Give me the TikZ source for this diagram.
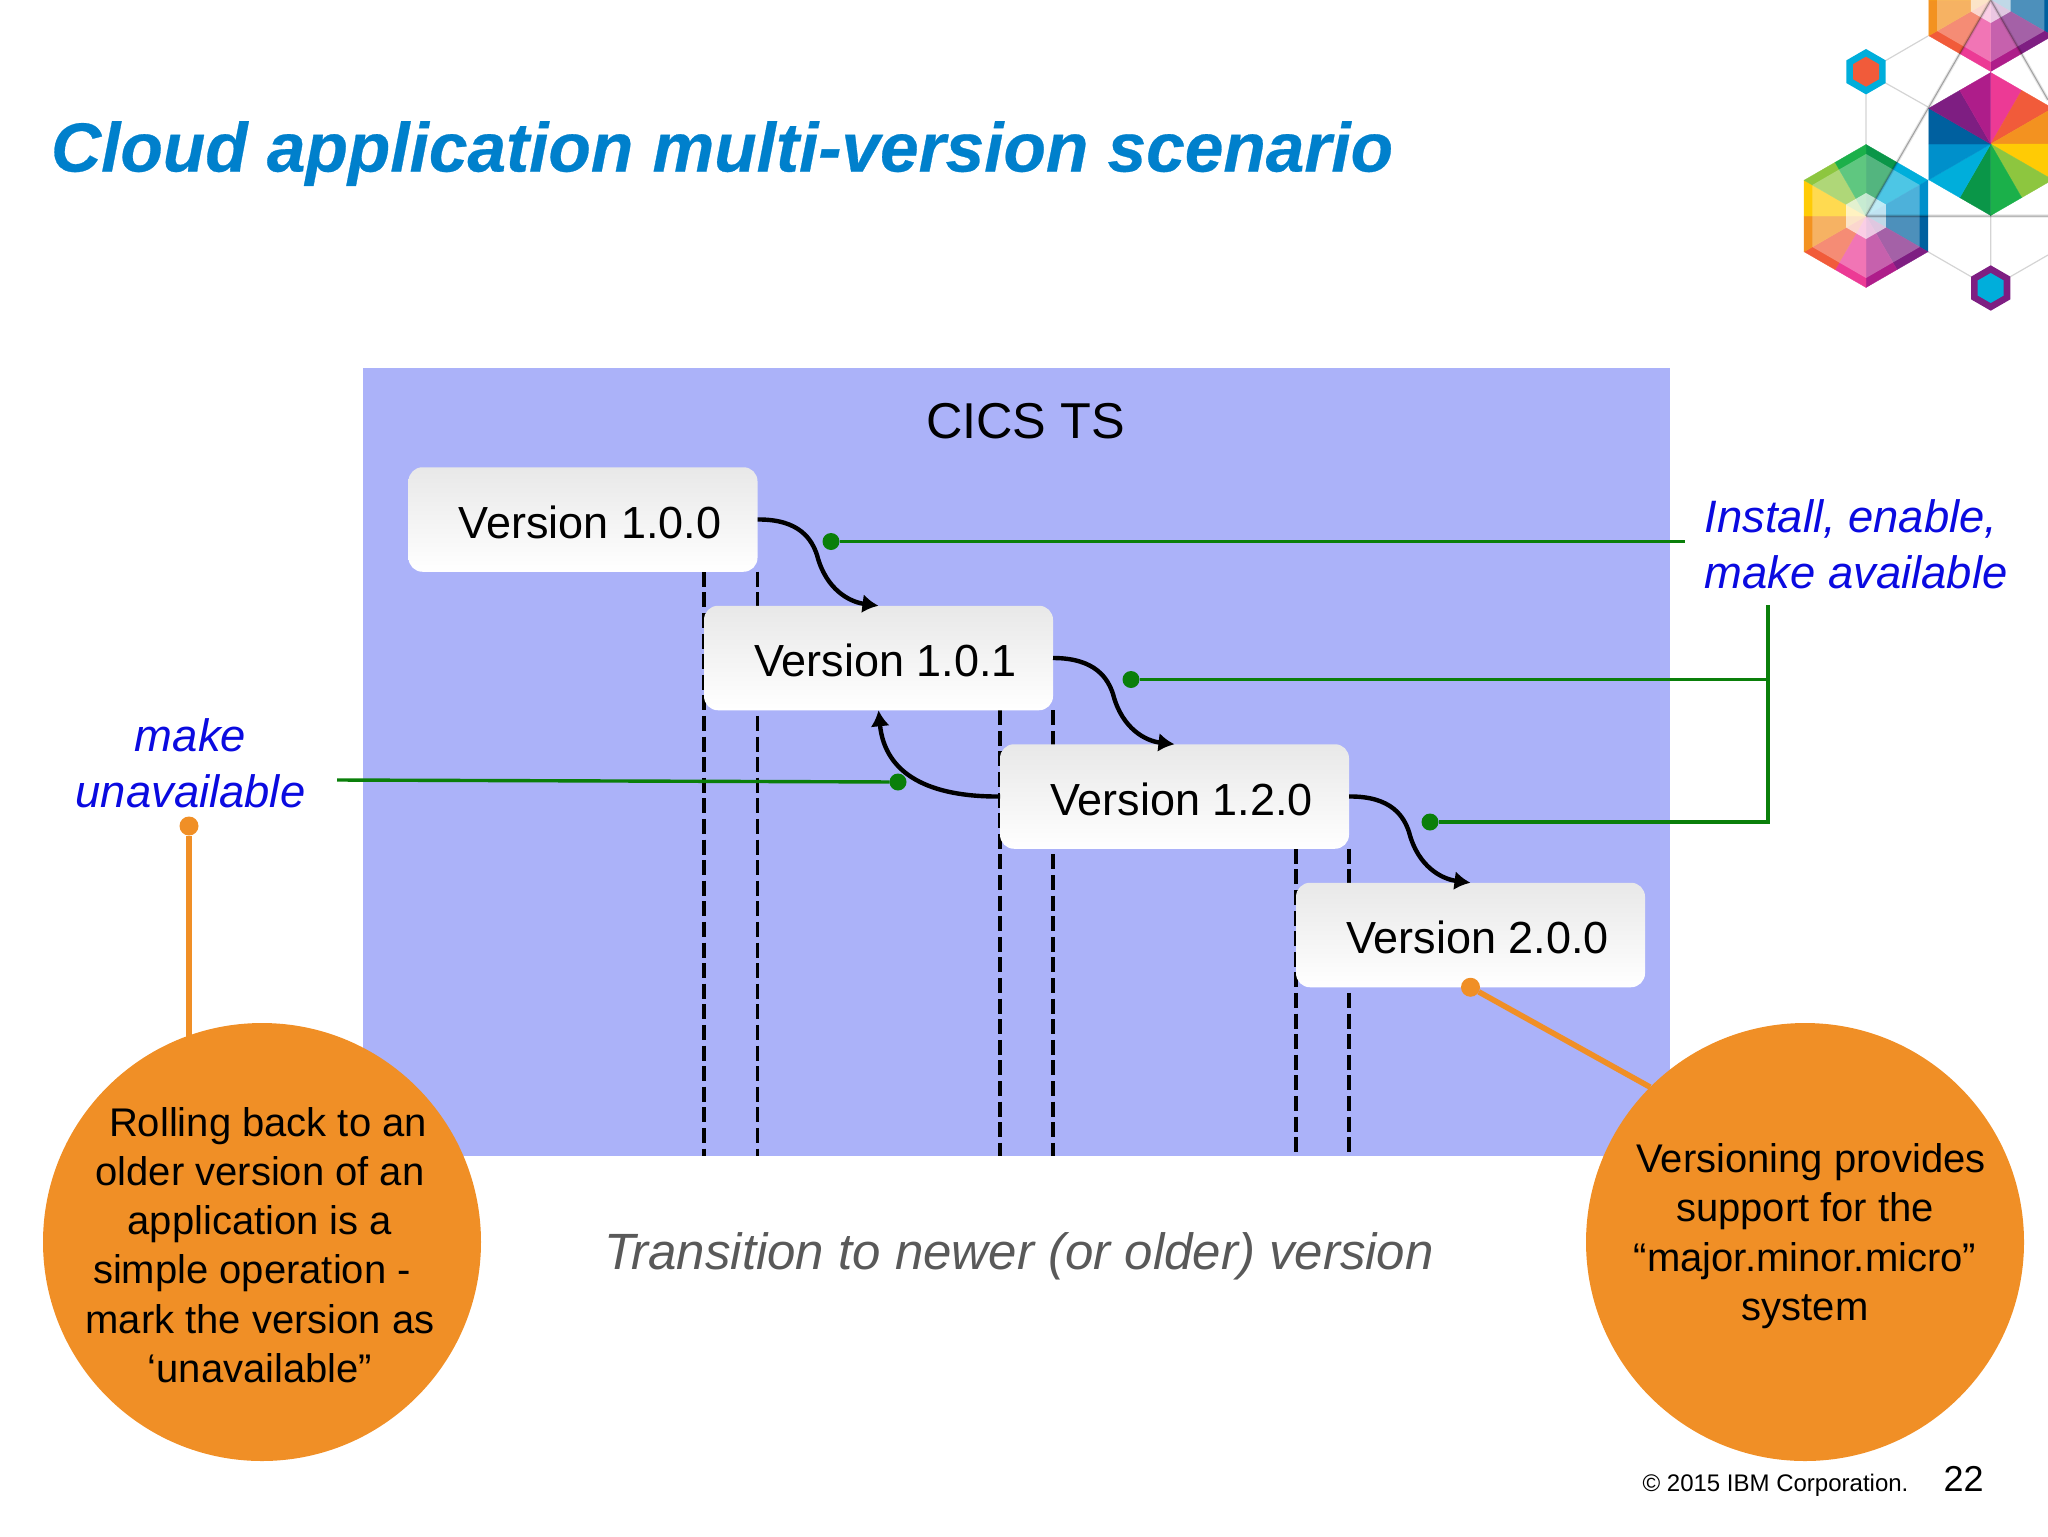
\documentclass[tikz,border=0pt]{standalone}
\usepackage{fontspec}
\setmainfont{Liberation Sans}
\usetikzlibrary{arrows.meta}
\definecolor{panelblue}{HTML}{ABB2F9}
\definecolor{titleblue}{HTML}{0080CC}
\definecolor{labelblue}{HTML}{0A0AE0}
\definecolor{dotgreen}{HTML}{0A7F0A}
\definecolor{bubble}{HTML}{F08F26}
\definecolor{wpink}{HTML}{EC3A95}
\definecolor{wred}{HTML}{F15B3A}
\definecolor{worange}{HTML}{F39220}
\definecolor{wyellow}{HTML}{FFCB05}
\definecolor{wlgreen}{HTML}{8DC63F}
\definecolor{wgreen}{HTML}{1BB04A}
\definecolor{wdgreen}{HTML}{0A9648}
\definecolor{wcyan}{HTML}{00AEDB}
\definecolor{wblue}{HTML}{0090CB}
\definecolor{wdblue}{HTML}{00609F}
\definecolor{wpurple}{HTML}{7E1E82}
\definecolor{wmagenta}{HTML}{AE1D8A}
% plain hexagon: centre, radius, fill options
\newcommand{\hexfill}[4]{\fill[#4,shift={(#1,#2)}] (-90:#3) -- (-30:#3) -- (30:#3) -- (90:#3) -- (150:#3) -- (210:#3) -- cycle;}
% twelve wedge hexagon: centre, radius, colour list clockwise from the top
\newcommand{\wheelhex}[4]{%
  \begin{scope}[shift={(#1,#2)}]
    \foreach \c [count=\i from 0] in {#4} {
      \pgfmathsetmacro{\angA}{-90+30*\i}
      \pgfmathsetmacro{\angB}{-60+30*\i}
      \pgfmathsetmacro{\radA}{mod(\i,2)==0 ? #3 : #3*0.866}
      \pgfmathsetmacro{\radB}{mod(\i,2)==0 ? #3*0.866 : #3}
      \fill[\c,draw=\c,line width=0.15pt] (0,0) -- (\angA:\radA) -- (\angB:\radB) -- cycle;
    }
  \end{scope}}
\tikzset{
  panel/.style={fill=panelblue,minimum width=653.5pt,minimum height=394pt,inner sep=0pt,outer sep=0pt},
  version/.style={rounded corners=7pt,top color=black!9,bottom color=white,minimum width=174.5pt,minimum height=52.25pt,inner sep=0pt,outer sep=0pt,text height=18.7pt,text depth=0pt,font=\fontsize{22.5}{26}\selectfont},
  vline/.style={dash pattern=on 7.5pt off 2.8pt,line width=1.75pt,black},
  verstep/.style={-{Latex[length=8pt,width=9.5pt]},line width=2.2pt,black},
  gline/.style={dotgreen,line width=1.7pt},
  gdot/.style={circle,fill=dotgreen,minimum size=8.5pt,inner sep=0pt,outer sep=0pt},
  oline/.style={bubble,line width=2.8pt},
  odot/.style={circle,fill=bubble,minimum size=9.5pt,inner sep=0pt,outer sep=0pt},
  note/.style={circle,fill=bubble,minimum size=219pt,inner sep=0pt,outer sep=0pt},
  notetext/.style={align=center,font=\fontsize{20}{24.65}\selectfont},
  bluetext/.style={labelblue,font=\fontsize{22.7}{28}\itshape\selectfont},
  hexlink/.style={black!17,line width=0.6pt},
  hexsoft/.style={black,opacity=0.1,line width=1.6pt},
  hexshade/.style={black,opacity=0.3,line width=0.5pt}
}
\begin{document}
\begin{tikzpicture}[x=0.5pt,y=-0.5pt]
\useasboundingbox (0,0) rectangle (2048,1536);

% logo
\draw[hexlink] (1866,72) -- (1928,36) (1866,72) -- (1928,107) (1866,72) -- (1866,216);
\draw[hexlink] (1866,216) -- (1990.7,288) -- (2048,255) (1990.7,144) -- (1990.7,288);
\wheelhex{1990.7}{144}{71.5}{wpink,wred,worange,wyellow,wlgreen,wgreen,wdgreen,wcyan,wblue,wdblue,wpurple,wmagenta}
\wheelhex{1866}{216}{71.5}{wdgreen,wcyan,wblue,wdblue,wpurple,wmagenta,wpink,wred,worange,wyellow,wlgreen,wgreen}
\hexfill{1866}{216}{62}{white,opacity=0.3}
\hexfill{1866}{216}{23}{white,opacity=0.65}
\wheelhex{1990.7}{0}{71.5}{wdgreen,wcyan,wblue,wdblue,wpurple,wmagenta,wpink,wred,worange,wyellow,wlgreen,wgreen}
\hexfill{1990.7}{0}{62}{white,opacity=0.3}
\hexfill{1990.7}{0}{23}{white,opacity=0.65}
\hexfill{1866}{71.7}{22.7}{wcyan}
\hexfill{1866}{71.7}{15}{wred}
\hexfill{1990.7}{288}{22.7}{wpurple}
\hexfill{1990.7}{288}{15}{wcyan}
\draw[hexsoft] (1866,216) -- (1990.7,0) -- (2048,100) (1866,216) -- (2048,216);
\draw[hexshade] (1866,216) -- (1990.7,0) -- (2048,100) (1866,216) -- (2048,216);

\node[anchor=base west,titleblue,font=\fontsize{34.7}{40}\bfseries\itshape\addfontfeature{FakeBold=0.4}\selectfont] (title) at (44,171.5) {Cloud application multi-version scenario};

\node[panel] (panel) at (1016.5,762) {};
\node[font=\fontsize{25.2}{30}\selectfont] (cics) at (1025.5,421) {CICS TS};

\coordinate (v0) at (583,519.5);
\coordinate (v1) at (878.5,658);
\coordinate (v2) at (1174.5,796.5);
\coordinate (v3) at (1470.5,935);

% dashed lines run behind the version boxes
\path (v0) ++(-87.25pt,-26.1pt) coordinate (v0sw) ++(174.5pt,0) coordinate (v0se);
\path (v1) ++(-87.25pt,-26.1pt) coordinate (v1sw) ++(174.5pt,0) coordinate (v1se);
\path (v2) ++(-87.25pt,-26.1pt) coordinate (v2sw) ++(174.5pt,0) coordinate (v2se);
\draw[vline] (v1sw |- v0sw) -- (v1sw |- panel.south);
\draw[vline] (v0se) -- (v0se |- panel.south);
\draw[vline] (v2sw |- v1sw) -- (v2sw |- panel.south);
\draw[vline] (v1se) -- (v1se |- panel.south);
\path (v3) ++(-87.25pt,0) coordinate (v3w);
\draw[vline] (v3w |- v2sw) -- (v3w |- panel.south);
\draw[vline] (v2se) -- (v2se |- panel.south);

\node[version] (a) at (v0) {\hspace*{7pt}Version 1.0.0};
\node[version] (b) at (v1) {\hspace*{7pt}Version 1.0.1};
\node[version] (c) at (v2) {\hspace*{7pt}Version 1.2.0};
\node[version] (d) at (v3) {\hspace*{7pt}Version 2.0.0};

\draw[verstep] (a.east) .. controls (800,519) and (812,540) .. (817,555) .. controls (826,590) and (850,602) .. (b.north);
\draw[verstep] (b.east) .. controls (1096,658) and (1108,679) .. (1113,694) .. controls (1122,729) and (1146,741) .. (c.north);
\draw[verstep] (c.east) .. controls (1392,796) and (1404,817) .. (1409,832) .. controls (1418,867) and (1442,879) .. (d.north);
\draw[verstep] (c.west) .. controls (930,797) and (885,775) .. (b.south);

% green markers
\node[gdot] (g1) at (831,541.5) {};
\node[gdot] (g2) at (1131,679.5) {};
\node[gdot] (g3) at (1430,822) {};
\node[gdot] (g4) at (898,782) {};
\coordinate (gend1) at (1685,541.5);
\coordinate (gtop) at (1768,605);
\coordinate (gbot) at (1768,822);
\coordinate (gend4) at (337,780);
\draw[gline] (g1) -- (gend1);
\draw[gline] (g2) -- (g2 -| gtop);
\draw[gline] (g3) -- (gbot) -- (gtop);
\draw[gline] (g4) -- (gend4);

\node[anchor=base west,align=left,bluetext] (install) at (1697.5,588) {Install, enable,\\make available};
\node[anchor=base,align=center,bluetext] (unavail) at (190.5,807) {make\\unavailable};

\node[font=\fontsize{25.5}{30}\itshape\selectfont,black!65] (trans) at (1019,1256) {Transition to newer (or older) version};

% orange call-outs
\node[note] (left) at (262,1242) {};
\node[note] (right) at (1805,1242) {};
\node[odot] (o1) at (189,826) {};
\node[odot] (o2) at (d.south) {};
\draw[oline] (o1) -- (o1 |- left.north west);
\draw[oline] (o2) -- (right.north west);
\node[notetext] (ltext) at (260,1245) {\hspace*{8pt}Rolling back to an\\older version of an\\application is a\\simple operation -\kern8pt\\mark the version as\\‘unavailable”};
\node[notetext] (rtext) at (1805,1236) {\hspace*{6pt}Versioning provides\\support for the\\“major.minor.micro”\\system};

\node[anchor=base west,font=\fontsize{12}{14}\selectfont] (copy) at (1635.5,1491) {© 2015 IBM Corporation.};
\node[anchor=base west,font=\fontsize{18}{20}\selectfont] (page) at (1936.5,1491) {22};
\end{tikzpicture}
\end{document}
